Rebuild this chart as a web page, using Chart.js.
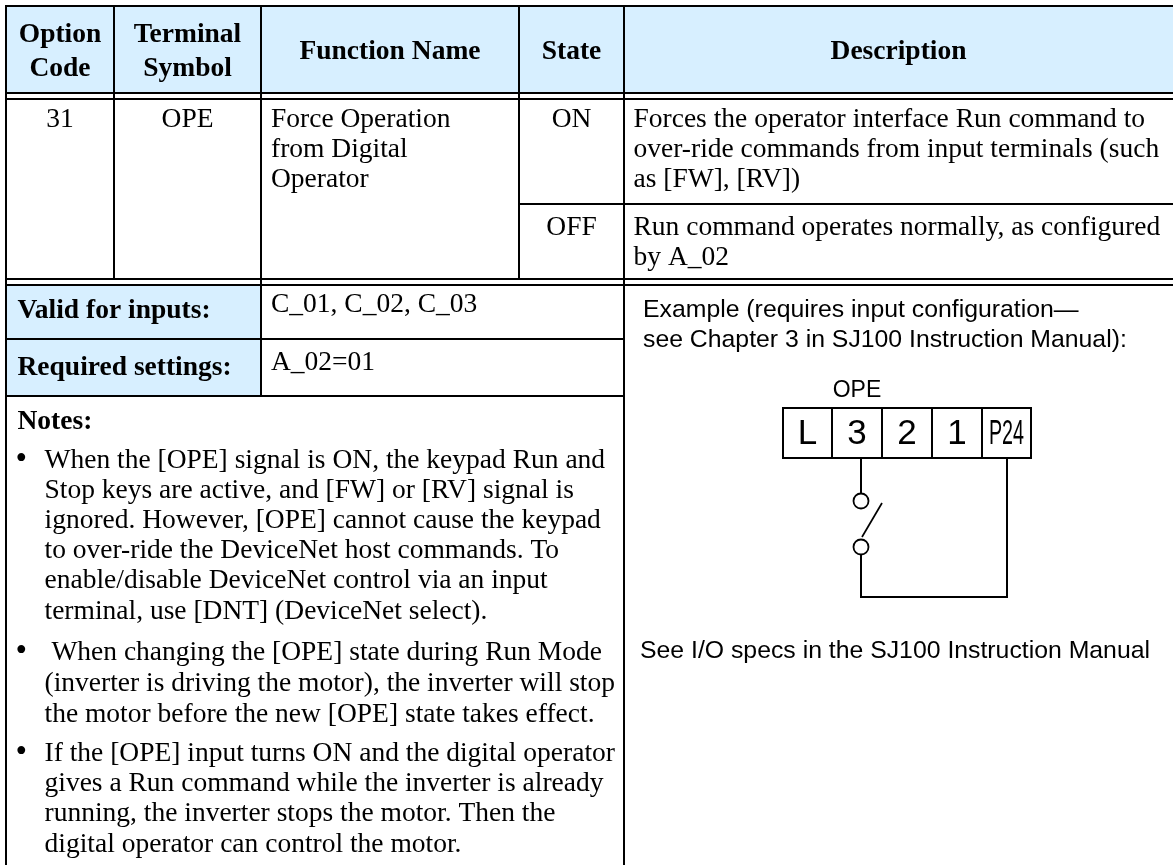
<!DOCTYPE html>
<html>
<head>
<meta charset="utf-8">
<title>Option Code 31 OPE</title>
<script src="https://cdn.jsdelivr.net/npm/chart.js@4/dist/chart.umd.min.js"></script>
<style>
html, body { margin: 0; padding: 0; background: #fff; overflow: hidden; }
canvas { display: block; }
</style>
</head>
<body>
<canvas id="sheet" width="1173" height="865"></canvas>
<script>
/* TABLE TEXT */
const headerLabels = [["Option", "Code"], ["Terminal", "Symbol"], ["Function Name"], ["State"], ["Description"]];
const optionCode = "31";
const terminalSymbol = "OPE";
const functionName = ["Force Operation", "from Digital", "Operator"];
const stateLabels = ["ON", "OFF"];
const onDescription = ["Forces the operator interface Run command to", "over-ride commands from input terminals (such", "as [FW], [RV])"];
const offDescription = ["Run command operates normally, as configured", "by A_02"];
const settingLabels = ["Valid for inputs:", "Required settings:"];
const settingValues = ["C_01, C_02, C_03", "A_02=01"];
const notesTitle = "Notes:";
const notes = [
  ["When the [OPE] signal is ON, the keypad Run and", "Stop keys are active, and [FW] or [RV] signal is", "ignored. However, [OPE] cannot cause the keypad", "to over-ride the DeviceNet host commands. To", "enable/disable DeviceNet control via an input", "terminal, use [DNT] (DeviceNet select)."],
  [" When changing the [OPE] state during Run Mode", "(inverter is driving the motor), the inverter will stop", "the motor before the new [OPE] state takes effect."],
  ["If the [OPE] input turns ON and the digital operator", "gives a Run command while the inverter is already", "running, the inverter stops the motor. Then the", "digital operator can control the motor."]
];
const exampleText = ["Example (requires input configuration\u2014", "see Chapter 3 in SJ100 Instruction Manual):"];
const specsText = "See I/O specs in the SJ100 Instruction Manual";
const inputName = "OPE";
const terminals = ["L", "3", "2", "1", "P24"];

/* TABLE GRID, in page units */
const columnEdges = [6, 114, 261, 519, 624, 1173];
const rowEdges = [6, 93, 99, 204, 279, 285, 339, 396];
const pageBottom = 865;

/* TERMINAL STRIP */
const stripEdges = [783, 832, 882, 932, 982, 1031];
const stripRows = [408, 458];
const wireColumns = [861, 1007];
const wireBottom = 597;
const contactRows = [501, 547];

const INK = "#000";
const HEAD_BLUE = "#d7efff";
const SERIF = '"Liberation Serif"';
const SANS = '"Liberation Sans"';

const line = (x0, y0, x1, y1, width = 2) => ({
  type: "line",
  data: [{ x: x0, y: y0 }, { x: x1, y: y1 }],
  borderColor: INK,
  borderWidth: width,
  pointRadius: 0,
  fill: false,
  clip: false,
  order: 2
});

const band = (x0, x1, y0, y1) => ({
  type: "line",
  data: [{ x: x0, y: y0 }, { x: x1, y: y0 }],
  borderWidth: 0,
  pointRadius: 0,
  backgroundColor: HEAD_BLUE,
  fill: { value: y1 },
  order: 5
});

const [c0, c1, c2, c3, c4, c5] = columnEdges;
const [r0, r1, r2, r3, r4, r5, r6, r7] = rowEdges;

const datasets = [
  /* shaded cells */
  band(c0, c5, r0, r1),
  band(c0, c2, r5, r6),
  band(c0, c2, r6, r7),

  /* horizontal rules */
  line(c0 - 1, r0, c5, r0),
  line(c0 - 1, r1, c5, r1),
  line(c0 - 1, r2, c5, r2),
  line(c3, r3, c5, r3),
  line(c0 - 1, r4, c5, r4),
  line(c0 - 1, r5, c5, r5),
  line(c0, r6, c4, r6),
  line(c0, r7, c4, r7),

  /* vertical rules */
  line(c0, r0, c0, pageBottom),
  line(c1, r0, c1, r4),
  line(c2, r0, c2, r7),
  line(c3, r0, c3, r4),
  line(c4, r0, c4, pageBottom),

  /* terminal strip */
  line(stripEdges[0] - 1, stripRows[0], stripEdges[5] + 1, stripRows[0]),
  line(stripEdges[0] - 1, stripRows[1], stripEdges[5] + 1, stripRows[1]),
  ...stripEdges.map(x => line(x, stripRows[0], x, stripRows[1])),

  /* wiring */
  line(wireColumns[0], stripRows[1], wireColumns[0], contactRows[0]),
  line(wireColumns[0], contactRows[1], wireColumns[0], wireBottom),
  line(wireColumns[0] - 1, wireBottom, wireColumns[1] + 1, wireBottom),
  line(wireColumns[1], stripRows[1], wireColumns[1], wireBottom),
  line(wireColumns[0] + 1, contactRows[1] - 10, wireColumns[0] + 21, contactRows[0] + 2, 1.7),

  /* switch contacts */
  {
    type: "scatter",
    data: contactRows.map(y => ({ x: wireColumns[0], y })),
    pointRadius: 7.5,
    pointBorderWidth: 1.8,
    pointBorderColor: INK,
    pointBackgroundColor: "#fff",
    order: 1
  }
];

/* TEXT */
const serif = `27.5px ${SERIF}`;
const bold = `bold 27.5px ${SERIF}`;
const sans = `24.8px ${SANS}`;
const labels = [];
const put = (text, x, y, font, align = "left", maxWidth) => labels.push({ text, x, y, font, align, maxWidth });

const headerCentres = columnEdges.slice(0, -1).map((x, i) => (x + columnEdges[i + 1]) / 2);
headerLabels.forEach((rows, i) => {
  const baselines = rows.length === 2 ? [42, 76] : [59];
  rows.forEach((t, k) => put(t, headerCentres[i], baselines[k], bold, "center"));
});

put(optionCode, headerCentres[0], 127, serif, "center");
put(terminalSymbol, headerCentres[1], 127, serif, "center");
functionName.forEach((t, k) => put(t, 271, 127 + k * 30, serif));
put(stateLabels[0], headerCentres[3], 127, serif, "center");
put(stateLabels[1], headerCentres[3], 235, serif, "center");
onDescription.forEach((t, k) => put(t, 633.5, 127 + k * 30, serif));
offDescription.forEach((t, k) => put(t, 633.5, 235 + k * 30, serif));

settingLabels.forEach((t, k) => put(t, 17.5, [318, 375][k], bold));
settingValues.forEach((t, k) => put(t, 271, [312, 370][k], serif));
put(notesTitle, 17.5, 429, bold);

const noteBaselines = [[468, 498, 528, 558, 588, 619], [660, 691, 722], [761, 791, 821, 852]];
notes.forEach((para, p) => {
  put("\u2022", 15.5, noteBaselines[p][0] + 1, `33px ${SERIF}`);
  para.forEach((t, k) => put(t, 44.5, noteBaselines[p][k], serif));
});

exampleText.forEach((t, k) => put(t, 643, 317 + k * 30, sans));
put(specsText, 640, 658, sans);
put(inputName, 857, 397, `23px ${SANS}`, "center");
terminals.forEach((t, i) => {
  const mid = (stripEdges[i] + stripEdges[i + 1]) / 2;
  if (t === "P24") put(t, mid, 444, `35px ${SANS}`, "center", 35);
  else put(t, mid, 444, `35px ${SANS}`, "center");
});

/* TEXT PLUGIN */
const textPlugin = {
  id: "sheetText",
  afterDatasetsDraw(chart) {
    const { ctx, scales: { x, y } } = chart;
    ctx.save();
    ctx.fillStyle = INK;
    ctx.textBaseline = "alphabetic";
    labels.forEach(l => {
      ctx.font = l.font;
      ctx.textAlign = l.align;
      if (l.maxWidth) ctx.fillText(l.text, x.getPixelForValue(l.x), y.getPixelForValue(l.y), l.maxWidth);
      else ctx.fillText(l.text, x.getPixelForValue(l.x), y.getPixelForValue(l.y));
    });
    ctx.restore();
  }
};

new Chart(document.getElementById("sheet"), {
  type: "scatter",
  data: { datasets },
  options: {
    responsive: false,
    animation: false,
    layout: { padding: 0, autoPadding: false },
    plugins: { legend: { display: false }, tooltip: { enabled: false } },
    scales: {
      x: { type: "linear", display: false, min: 0, max: 1173 },
      y: { type: "linear", display: false, min: 0, max: 865, reverse: true }
    }
  },
  plugins: [textPlugin]
});
</script>
</body>
</html>
